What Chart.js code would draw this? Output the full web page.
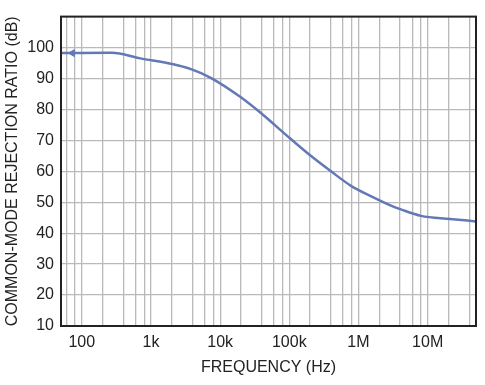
<!DOCTYPE html>
<html>
<head>
<meta charset="utf-8">
<script src="https://cdn.jsdelivr.net/npm/chart.js@4"></script>
<style>
  html, body { margin: 0; padding: 0; background: #fff; }
  canvas { display: block; }
</style>
</head>
<body>
<canvas id="cmrrChart" width="485" height="385"></canvas>
<script>
// data
const freqHz = [50, 270, 700, 2100, 3700, 7200, 19700, 38400, 104000, 204000, 400000, 780000, 1500000, 2950000, 4100000, 8000000, 21000000, 50000000];
const cmrrDb = [98.2, 98.3, 96.5, 94.6, 93.1, 90.3, 84.0, 78.9, 70.5, 65.0, 60.0, 55.3, 52.0, 48.9, 47.7, 45.6, 44.6, 43.8];
const markerHz = [73];
const markerDb = [98.2];

// axis ticks
const xDecades = [100, 1000, 10000, 100000, 1000000, 10000000];
const xTickLabels = ["100", "1k", "10k", "100k", "1M", "10M"];
const xGridSteps = [1, 2, 4, 6, 8];
const yTickLabels = ["10", "20", "30", "40", "50", "60", "70", "80", "90", "100"];

const xMin = 50, xMax = 50000000;
const lineColor = "#6379b5";
const textColor = "#222";
const gridColor = "#b9b9b9";

// gridline positions: 1,2,4,6,8 per decade
const xGridValues = [];
for (let d = 10; d <= 10000000; d *= 10) {
  xGridSteps.forEach((m) => {
    const v = d * m;
    if (v >= xMin && v <= xMax) xGridValues.push(v);
  });
}

// frame round the plot area
const framePlugin = {
  id: "frame",
  afterDatasetsDraw(chart) {
    const { ctx, chartArea: a } = chart;
    ctx.save();
    ctx.strokeStyle = "#222";
    ctx.lineWidth = 2;
    ctx.strokeRect(a.left, a.top, a.right - a.left, a.bottom - a.top);
    ctx.restore();
  }
};

const ctx = document.getElementById("cmrrChart").getContext("2d");
new Chart(ctx, {
  type: "line",
  data: {
    datasets: [
      {
        data: freqHz.map((f, i) => ({ x: f, y: cmrrDb[i] })),
        borderColor: lineColor,
        borderWidth: 2.5,
        pointRadius: 0,
        cubicInterpolationMode: "monotone",
        fill: false
      },
      {
        data: markerHz.map((f, i) => ({ x: f, y: markerDb[i] })),
        showLine: false,
        pointStyle: "triangle",
        rotation: 270,
        pointRadius: 4,
        backgroundColor: lineColor,
        borderColor: lineColor,
        borderWidth: 1
      }
    ]
  },
  options: {
    responsive: false,
    devicePixelRatio: 1,
    animation: false,
    layout: { padding: { top: 14, right: 9, left: 0, bottom: 0 } },
    plugins: {
      legend: { display: false },
      tooltip: { enabled: false }
    },
    scales: {
      x: {
        type: "logarithmic",
        min: xMin,
        max: xMax,
        afterBuildTicks: (scale) => {
          scale.ticks = xGridValues.map((v) => ({ value: v }));
        },
        afterFit: (scale) => { scale.height = 59; },
        ticks: {
          autoSkip: false,
          maxRotation: 0,
          padding: 7,
          color: textColor,
          font: { family: "Liberation Sans", size: 16 },
          callback: (value) => {
            const i = xDecades.indexOf(value);
            return i >= 0 ? xTickLabels[i] : "";
          }
        },
        grid: { color: gridColor, lineWidth: 1.3, drawTicks: false },
        border: { display: false },
        title: {
          display: true,
          text: "FREQUENCY (Hz)",
          color: textColor,
          font: { family: "Liberation Sans", size: 16 },
          padding: { top: 0, bottom: 8 }
        }
      },
      y: {
        min: 10,
        max: 110,
        afterFit: (scale) => { scale.width = 61; },
        ticks: {
          stepSize: 10,
          padding: 7,
          color: textColor,
          font: { family: "Liberation Sans", size: 16 },
          callback: (value) => {
            const i = Math.round((value - 10) / 10);
            return yTickLabels[i] !== undefined ? yTickLabels[i] : "";
          }
        },
        grid: { color: gridColor, lineWidth: 1.3, drawTicks: false },
        border: { display: false },
        title: {
          display: true,
          text: "COMMON-MODE REJECTION RATIO (dB)",
          color: textColor,
          font: { family: "Liberation Sans", size: 16 },
          padding: { top: 3, bottom: 0 }
        }
      }
    }
  },
  plugins: [framePlugin]
});
</script>
</body>
</html>
